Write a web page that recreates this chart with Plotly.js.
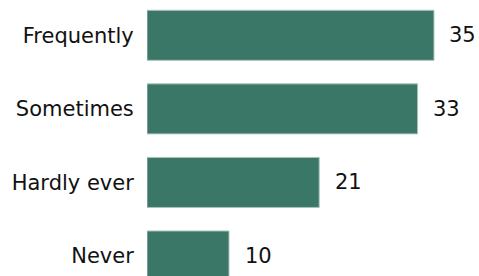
<!DOCTYPE html>
<html>
<head>
<meta charset="utf-8">
<script src="https://cdn.plot.ly/plotly-3.0.1.min.js"></script>
<style>html,body{margin:0;padding:0;background:#fff;}#chart{width:479px;height:276px;}</style>
</head>
<body>
<div id="chart"></div>
<script>
const categories = ["Never", "Hardly ever", "Sometimes", "Frequently"];
const values = [10, 21, 33, 35];
const labels = ["10", "21", "33", "35"];

const trace = {
  type: "bar",
  orientation: "h",
  y: categories,
  x: values,
  marker: {color: "#3a7767", line: {color: "#a9c4bc", width: 1}},
  hoverinfo: "none"
};

const annotations = categories.map((c, i) => ({
  x: values[i], y: c, xref: "x", yref: "y",
  text: labels[i], showarrow: false, xanchor: "center", xshift: 29,
  font: {family: "DejaVu Sans, Verdana, sans-serif", size: 21, color: "#111"}
}));

const layout = {
  width: 479, height: 276,
  margin: {l: 147, r: 0, t: 0, b: 0},
  paper_bgcolor: "#fff", plot_bgcolor: "#fff",
  bargap: 0.32,
  showlegend: false,
  font: {family: "DejaVu Sans, Verdana, sans-serif", size: 21, color: "#111"},
  xaxis: {range: [0, 40.49], visible: false, fixedrange: true},
  yaxis: {range: [-0.272, 3.48], showgrid: false, zeroline: false, showline: false,
          ticks: "outside", ticklen: 8, tickcolor: "rgba(0,0,0,0)", fixedrange: true},
  annotations: annotations
};

Plotly.newPlot("chart", [trace], layout, {displayModeBar: false, staticPlot: true});
</script>
</body>
</html>
